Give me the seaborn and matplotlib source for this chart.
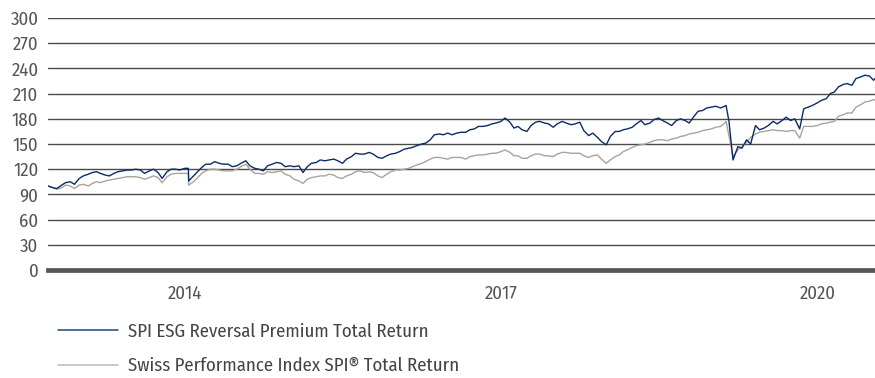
import matplotlib
matplotlib.use("Agg")
import matplotlib.pyplot as plt
import pandas as pd
import seaborn as sns

# Semi-monthly observation dates plus a few event days (SNB shock, pre-crash peak, last print)
base_dates = pd.date_range("2013-09-15", "2021-07-15", freq="SMS")
extra_dates = pd.to_datetime(["2015-01-14", "2020-02-20", "2021-07-20"])
dates = base_dates.union(extra_dates)

esg_reversal = [
    100, 98, 97, 101, 104, 105, 102, 109, 112, 114, 116, 117, 115, 113, 112, 115,
    117, 118, 119, 119, 120, 119, 115, 118, 120, 116, 109, 117, 120, 120, 119, 121,
    121,  # 2015-01-14
    106, 112, 117, 122, 126, 126, 129, 127, 126, 126, 123, 124, 127, 130, 124, 121,
    120, 118, 124, 126, 128, 127, 123, 124, 123, 124, 116, 123, 127, 128, 131, 130,
    131, 132, 130, 127, 132, 135, 139, 138, 138, 140, 138, 134, 133, 136, 138, 139,
    141, 144, 145, 146, 148, 150, 151, 155, 161, 162, 161, 163, 161, 163, 164, 164,
    167, 168, 171, 171, 172, 174, 175, 177, 181, 176, 169, 171, 167, 165, 172, 176,
    177, 175, 174, 170, 174, 177, 175, 173, 174, 176, 166, 160, 163, 158, 153, 149,
    159, 165, 165, 167, 168, 170, 174, 178, 173, 175, 179, 181, 178, 175, 172, 178,
    180, 178, 175, 183, 189, 190, 193, 194, 195, 193, 195,
    196,  # 2020-02-20
    177, 131, 147, 145, 155, 150, 172, 167, 169, 172, 177, 174, 178, 182, 178, 180,
    168, 192, 194, 196, 199, 202, 204, 210, 212, 218, 221, 222, 220, 228, 230, 232,
    231, 226,
    228,  # 2021-07-20
]

spi_total = [
    100, 98, 96, 98, 101, 100, 97, 101, 102, 100, 103, 105, 104, 106, 107, 108,
    109, 110, 111, 111, 111, 110, 108, 110, 112, 110, 104, 111, 114, 115, 115, 115,
    115,  # 2015-01-14
    101, 105, 110, 115, 118, 120, 120, 119, 118, 118, 118, 120, 123, 126, 120, 115,
    115, 114, 117, 116, 117, 118, 114, 112, 108, 106, 103, 108, 110, 111, 112, 112,
    114, 113, 110, 109, 112, 114, 117, 118, 116, 117, 116, 112, 110, 114, 117, 119,
    119, 120, 121, 123, 125, 127, 129, 132, 134, 134, 133, 132, 134, 134, 134, 132,
    135, 136, 137, 137, 138, 139, 139, 141, 143, 140, 136, 136, 133, 133, 136, 138,
    138, 136, 136, 135, 138, 140, 140, 139, 139, 139, 136, 134, 136, 137, 132, 127,
    131, 135, 137, 141, 143, 146, 148, 149, 150, 152, 154, 155, 155, 154, 156, 157,
    159, 160, 162, 163, 164, 166, 167, 168, 170, 171, 175,
    177,  # 2020-02-20
    160, 135, 143, 147, 152, 158, 162, 164, 165, 166, 167, 166, 166, 165, 166, 166,
    157, 171, 171, 171, 172, 174, 175, 176, 177, 183, 185, 187, 187, 194, 197, 200,
    201, 203,
    202,  # 2021-07-20
]

series_names = [
    "SPI ESG Reversal Premium Total Return",
    "Swiss Performance Index SPI\u00ae Total Return",
]
series_colors = ["#0b2d63", "#ada298"]

y_ticks = [0, 30, 60, 90, 120, 150, 180, 210, 240, 270, 300]
x_tick_dates = pd.to_datetime(["2015-01-01", "2018-01-01", "2021-01-01"])
x_tick_labels = ["2014", "2017", "2020"]

df = pd.concat([
    pd.DataFrame({"date": dates, "value": esg_reversal, "series": series_names[0]}),
    pd.DataFrame({"date": dates, "value": spi_total, "series": series_names[1]}),
])

sns.set_theme(style="white")
plt.rcParams["font.family"] = ["Fira Sans Condensed", "DejaVu Sans"]
plt.rcParams["font.stretch"] = "condensed"
plt.rcParams["font.weight"] = "normal"
FS = 13.5

fig = plt.figure(figsize=(8.75, 3.78), dpi=100)
ax = fig.add_axes([0.055, 0.286, 0.945, 0.666])

# draw SPI first so the ESG line sits on top
sns.lineplot(
    data=df, x="date", y="value", hue="series",
    hue_order=series_names[::-1], palette=series_colors[::-1],
    linewidth=1.0, ax=ax, legend=False,
)

ax.set_ylim(0, 300)
ax.set_xlim(dates[0], dates[-1])
ax.set_yticks(y_ticks)
ax.set_xticks(x_tick_dates)
ax.set_xticklabels(x_tick_labels)
ax.set_xlabel("")
ax.set_ylabel("")

ax.yaxis.grid(True, color="#4a4a4a", linewidth=1.0)
ax.xaxis.grid(False)
ax.set_axisbelow(True)
for side in ("top", "right", "left"):
    ax.spines[side].set_visible(False)
ax.spines["bottom"].set_color("#555555")
ax.spines["bottom"].set_linewidth(3.4)

ax.tick_params(axis="y", length=0, pad=7, labelsize=FS, labelcolor="#555555")
ax.tick_params(axis="x", length=0, pad=11, labelsize=FS, labelcolor="#555555")

handles = [
    plt.Line2D([], [], color="#1c4778", linewidth=1.1),
    plt.Line2D([], [], color="#c4bbb3", linewidth=1.1),
]
fig.legend(
    handles, series_names, loc="upper left", bbox_to_anchor=(0.066, 0.147),
    frameon=False, fontsize=FS, labelcolor="#444444",
    handlelength=3.2, handletextpad=0.53, labelspacing=0.9, borderaxespad=0,
    borderpad=0,
)

fig.savefig("out.png", dpi=100)
